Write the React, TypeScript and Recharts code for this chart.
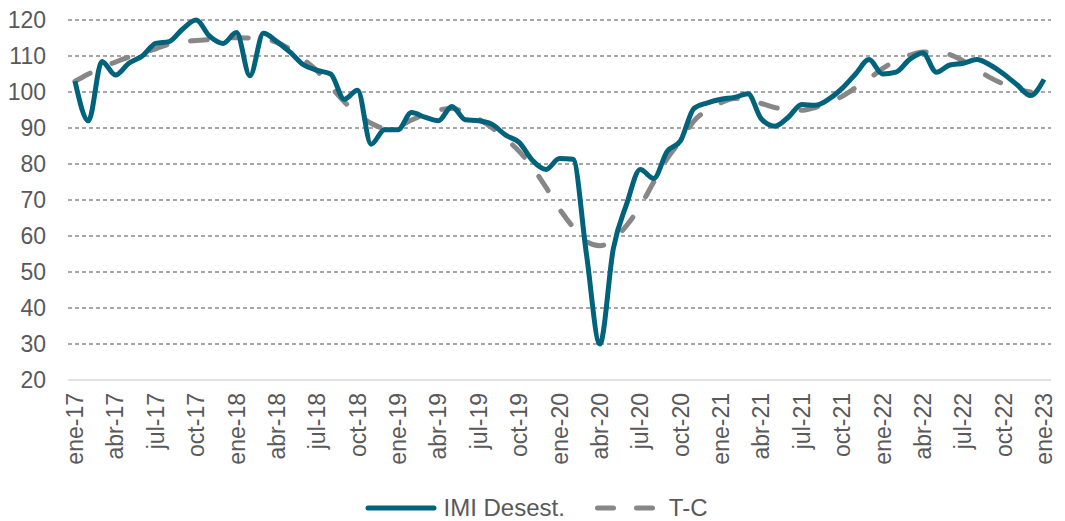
import React from "react";
import { LineChart, Line, XAxis, YAxis, CartesianGrid, Legend } from "recharts";

const months: string[] = [
  "ene-17","feb-17","mar-17","abr-17","may-17","jun-17","jul-17","ago-17","sep-17","oct-17","nov-17","dic-17",
  "ene-18","feb-18","mar-18","abr-18","may-18","jun-18","jul-18","ago-18","sep-18","oct-18","nov-18","dic-18",
  "ene-19","feb-19","mar-19","abr-19","may-19","jun-19","jul-19","ago-19","sep-19","oct-19","nov-19","dic-19",
  "ene-20","feb-20","mar-20","abr-20","may-20","jun-20","jul-20","ago-20","sep-20","oct-20","nov-20","dic-20",
  "ene-21","feb-21","mar-21","abr-21","may-21","jun-21","jul-21","ago-21","sep-21","oct-21","nov-21","dic-21",
  "ene-22","feb-22","mar-22","abr-22","may-22","jun-22","jul-22","ago-22","sep-22","oct-22","nov-22","dic-22",
  "ene-23",
];

const imiDesest: number[] = [
  103, 92, 108.5, 104.7, 108, 110, 113.5, 114, 117.5, 120, 115.5, 113.5,
  116.5, 104.5, 116.3, 114, 111, 107.5, 106, 105, 98, 100.5, 85.5, 89.5,
  89.5, 94.3, 93, 92, 96, 92.3, 92, 91, 88, 86, 81, 78.5,
  81.5, 81.3, 55, 30, 56.5, 69, 78.5, 76, 83.5, 86.5, 95.5, 97,
  98, 98.5, 99.5, 92.5, 90.5, 93, 96.5, 96.3, 98, 101, 105, 109,
  105, 105.5, 109, 110.8, 105.5, 107.5, 108, 109, 107.5, 105, 102, 99,
  103.5,
];

const tendenciaCiclo: (number | null)[] = [
  103, 105, 106.8, 108.3, 109.7, 110.8, 112, 113.3, 114, 114.3, 114.6, 115,
  115.1, 115, 114.7, 113.8, 111.8, 109, 105.8, 101.5, 97.3, 94, 91.3, 90,
  90.5, 92.2, 93.8, 95, 95.4, 94.3, 92.5, 90, 87, 83.5, 79, 73.5,
  67.5, 62.5, 58.5, 57.3, 59, 63, 68.3, 75, 81.5, 86.5, 92, 95,
  97, 98.2, 97.8, 96.8, 95.7, 95, 94.9, 95.7, 97, 98.8, 101.2, 103.7,
  106.5, 108.7, 110.2, 111.1, 111.1, 110.4, 108.6, 106.2, 104, 102.2, 100.8, 100,
  null,
];

const yTicks: number[] = [20, 30, 40, 50, 60, 70, 80, 90, 100, 110, 120];
const gridValues: number[] = [30, 40, 50, 60, 70, 80, 90, 100, 110, 120];
const seriesNames: string[] = ["IMI Desest.", "T-C"];

const data = months.map((m, i) => ({ m, imi: imiDesest[i], tc: tendenciaCiclo[i] }));

const FONT = '"Liberation Sans", Arial, sans-serif';
const TEXT = "#595959";
const TEAL = "#00627B";
const GRAY = "#878787";

const XTick = (props: any) => {
  const { x, y, payload } = props;
  return (
    <g transform={`translate(${x},${y})`}>
      <text
        transform="rotate(-90)"
        textAnchor="end"
        dy="0.35em"
        fill={TEXT}
        fontSize={23}
        fontFamily={FONT}
      >
        {payload.value}
      </text>
    </g>
  );
};

const LegendContent = () => (
  <div
    style={{
      display: "flex",
      justifyContent: "center",
      alignItems: "center",
      height: 26,
      fontFamily: FONT,
      fontSize: 24,
      color: TEXT,
      whiteSpace: "nowrap",
      paddingLeft: 14,
    }}
  >
    <svg width={72} height={10} style={{ display: "block" }}>
      <line x1={3} y1={5} x2={69} y2={5} stroke={TEAL} strokeWidth={5} strokeLinecap="round" />
    </svg>
    <span style={{ marginLeft: 6 }}>{seriesNames[0]}</span>
    <svg width={64} height={10} style={{ display: "block", marginLeft: 30 }}>
      <line
        x1={2.5}
        y1={5}
        x2={61.5}
        y2={5}
        stroke={GRAY}
        strokeWidth={5}
        strokeLinecap="round"
        strokeDasharray="16 23"
      />
    </svg>
    <span style={{ marginLeft: 10 }}>{seriesNames[1]}</span>
  </div>
);

export default function App() {
  return (
    <LineChart
      width={1049}
      height={513}
      data={data}
      margin={{ top: 12, right: 6, bottom: 0, left: 0 }}
    >
      <CartesianGrid
        vertical={false}
        horizontalValues={gridValues}
        stroke="#8a8a8a"
        strokeWidth={1.3}
        strokeDasharray="4 3"
      />
      <XAxis
        dataKey="m"
        interval={2}
        tickLine={false}
        axisLine={{ stroke: "#d9d9d9", strokeWidth: 1.5 }}
        tickSize={0}
        tickMargin={13}
        height={115}
        padding={{ left: 7, right: 7 }}
        tick={<XTick />}
      />
      <YAxis
        domain={[20, 120]}
        ticks={yTicks}
        interval={0}
        tickLine={false}
        axisLine={false}
        tickSize={0}
        tickMargin={22}
        width={60}
        tick={{ fill: TEXT, fontSize: 23, fontFamily: FONT }}
      />
      <Legend verticalAlign="bottom" content={<LegendContent />} />
      <Line
        type="monotone"
        dataKey="tc"
        name={seriesNames[1]}
        stroke={GRAY}
        strokeWidth={5}
        strokeLinecap="round"
        strokeDasharray="17 24"
        dot={false}
        activeDot={false}
        isAnimationActive={false}
      />
      <Line
        type="monotone"
        dataKey="imi"
        name={seriesNames[0]}
        stroke={TEAL}
        strokeWidth={5}
        dot={false}
        activeDot={false}
        isAnimationActive={false}
      />
    </LineChart>
  );
}
